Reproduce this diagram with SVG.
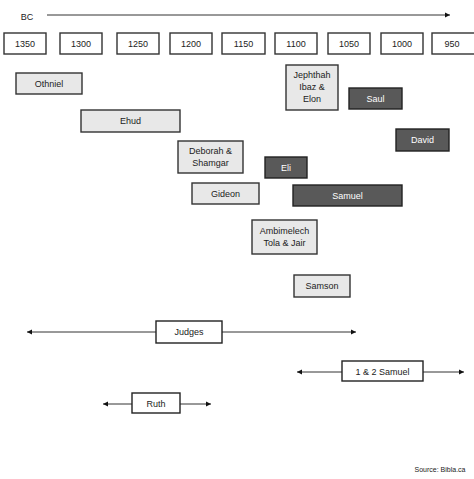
<svg xmlns="http://www.w3.org/2000/svg" width="474" height="479" viewBox="0 0 474 479">
<defs>
<marker id="ah" markerWidth="6" markerHeight="6" refX="5" refY="3" orient="auto-start-reverse" markerUnits="userSpaceOnUse">
<path d="M0,0.5 L5,3 L0,5.5 Z" fill="#111"/>
</marker>
<style>
text{font-family:"Liberation Sans",Arial,sans-serif;font-size:9px;text-anchor:middle;fill:#222}
.yr rect{fill:#fff;stroke:#333;stroke-width:1.4}
.lt rect{fill:#e8e8e8;stroke:#333;stroke-width:1.4}
.dk rect{fill:#595959;stroke:#222;stroke-width:1.4}
.dk text{fill:#fff}
.bk rect{fill:#fff;stroke:#222;stroke-width:1.4}
.ln{stroke:#333;stroke-width:1;fill:none}
</style>
</defs>
<rect width="474" height="479" fill="#fff"/>
<text x="27" y="20">BC</text>
<g id="connectors">
<line class="ln" x1="47" y1="15" x2="450" y2="15" marker-end="url(#ah)"/>
<line class="ln" x1="27" y1="332" x2="156" y2="332" marker-start="url(#ah)"/>
<line class="ln" x1="222" y1="332" x2="356" y2="332" marker-end="url(#ah)"/>
<line class="ln" x1="297" y1="372" x2="342" y2="372" marker-start="url(#ah)"/>
<line class="ln" x1="423" y1="372" x2="464" y2="372" marker-end="url(#ah)"/>
<line class="ln" x1="103" y1="404" x2="132" y2="404" marker-start="url(#ah)"/>
<line class="ln" x1="180" y1="404" x2="211" y2="404" marker-end="url(#ah)"/>
</g>
<g id="y1350" class="yr"><rect x="4" y="33" width="42" height="21"/><text x="25" y="47">1350</text></g>
<g id="y1300" class="yr"><rect x="60" y="33" width="42" height="21"/><text x="81" y="47">1300</text></g>
<g id="y1250" class="yr"><rect x="117" y="33" width="42" height="21"/><text x="138" y="47">1250</text></g>
<g id="y1200" class="yr"><rect x="170" y="33" width="42" height="21"/><text x="191" y="47">1200</text></g>
<g id="y1150" class="yr"><rect x="222" y="33" width="43" height="21"/><text x="243.5" y="47">1150</text></g>
<g id="y1100" class="yr"><rect x="275" y="33" width="42" height="21"/><text x="296" y="47">1100</text></g>
<g id="y1050" class="yr"><rect x="328" y="33" width="42" height="21"/><text x="349" y="47">1050</text></g>
<g id="y1000" class="yr"><rect x="381" y="33" width="42" height="21"/><text x="402" y="47">1000</text></g>
<g id="y950" class="yr"><rect x="432" y="33" width="43" height="21"/><text x="452" y="47">950</text></g>
<g id="othniel" class="lt"><rect x="16" y="73" width="66" height="21"/><text x="49" y="86.5">Othniel</text></g>
<g id="ehud" class="lt"><rect x="81" y="110" width="99" height="22"/><text x="130.5" y="124">Ehud</text></g>
<g id="deborah" class="lt"><rect x="178" y="141" width="65" height="32"/><text x="210.5" y="154">Deborah &amp;</text><text x="210.5" y="166">Shamgar</text></g>
<g id="jephthah" class="lt"><rect x="286" y="65" width="52" height="45"/><text x="312" y="78">Jephthah</text><text x="312" y="90">Ibaz &amp;</text><text x="312" y="102">Elon</text></g>
<g id="saul" class="dk"><rect x="349" y="88" width="53" height="21"/><text x="375.5" y="101.5">Saul</text></g>
<g id="david" class="dk"><rect x="396" y="129" width="53" height="22"/><text x="422.5" y="143">David</text></g>
<g id="eli" class="dk"><rect x="265" y="157" width="42" height="21"/><text x="286" y="170.5">Eli</text></g>
<g id="gideon" class="lt"><rect x="192" y="183" width="67" height="21"/><text x="225.5" y="196.5">Gideon</text></g>
<g id="samuel" class="dk"><rect x="293" y="185" width="109" height="21"/><text x="347.5" y="198.5">Samuel</text></g>
<g id="ambimelech" class="lt"><rect x="252" y="220" width="65" height="34"/><text x="284.5" y="234">Ambimelech</text><text x="284.5" y="246">Tola &amp; Jair</text></g>
<g id="samson" class="lt"><rect x="294" y="275" width="56" height="22"/><text x="322" y="289">Samson</text></g>
<g id="judges" class="bk"><rect x="156" y="321" width="66" height="22"/><text x="189" y="335">Judges</text></g>
<g id="samuel12" class="bk"><rect x="342" y="361" width="81" height="20"/><text x="382.5" y="374.5">1 &amp; 2 Samuel</text></g>
<g id="ruth" class="bk"><rect x="132" y="393" width="48" height="20"/><text x="156" y="406.5">Ruth</text></g>
<text x="440" y="472" style="font-size:7px">Source: Bibla.ca</text>
</svg>
